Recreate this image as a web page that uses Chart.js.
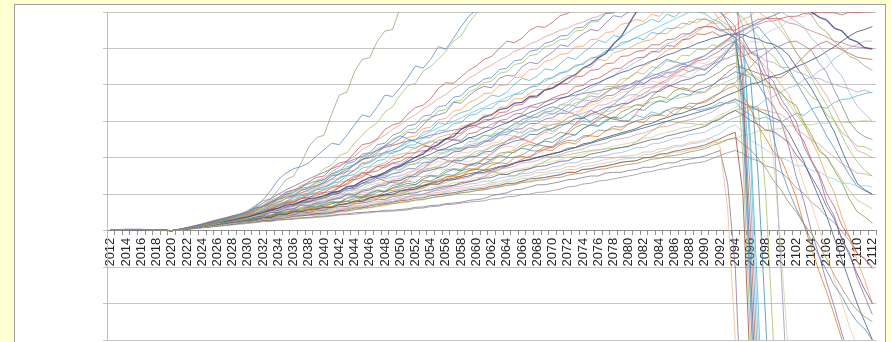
<!DOCTYPE html>
<html lang="en">
<head>
<meta charset="UTF-8" />
<title>Simulated runs 2012-2112</title>
<script src="https://cdn.jsdelivr.net/npm/chart.js"></script>
<style>
  html, body { margin: 0; padding: 0; }
  body { width: 891px; height: 342px; overflow: hidden; background: #ffffd2; position: relative; }
  .panel { position: absolute; left: 14px; top: 4px; width: 870px; height: 400px; background: #fff; border: 1px solid #9c9c9c; }
  #runs { position: absolute; left: 0; top: 0; }
</style>
</head>
<body>
<div class="panel"></div>
<canvas id="runs" width="891" height="342"></canvas>
<script>
const years = ['2012','2013','2014','2015','2016','2017','2018','2019','2020','2021','2022','2023','2024','2025','2026','2027','2028','2029','2030','2031','2032','2033','2034','2035','2036','2037','2038','2039','2040','2041','2042','2043','2044','2045','2046','2047','2048','2049','2050','2051','2052','2053','2054','2055','2056','2057','2058','2059','2060','2061','2062','2063','2064','2065','2066','2067','2068','2069','2070','2071','2072','2073','2074','2075','2076','2077','2078','2079','2080','2081','2082','2083','2084','2085','2086','2087','2088','2089','2090','2091','2092','2093','2094','2095','2096','2097','2098','2099','2100','2101','2102','2103','2104','2105','2106','2107','2108','2109','2110','2111','2112'];

// y gridlines every 100
const yMin = -300, yMax = 600, yStep = 100;

const run01 = [2,2,3,3,3,2,2,1,0,
  3,6,10,15,19,25,32,38,45,55, 70,82,88,112,140,150,186,230,255,262,
  320,372,380,436,470,475,520,548,552,612, 640,660,690,715,730,750,770,790,805,820,
  840,850,865,880,890,900,915,930,940,950, 960,970,980,990,1000,1000,1000,1000,1000,1000,
  1000,1000,1000,1000,1000,1000,1000,1000,1000,1000, 1000,990,970,950,900,850,800,760,720,690,
  655,640,608,592,560,545,518,502,478,470, 452,440];
const run02 = [2,2,3,3,3,2,2,1,0,
  3,6,9,13,18,24,30,37,45,54, 66,85,110,140,158,170,176,186,205,222,
  240,236,262,290,318,312,340,372,368,392, 420,452,446,470,505,498,528,560,588,605,
  630,655,680,700,720,740,755,770,790,805, 820,830,840,850,860,870,880,890,900,910,
  920,925,930,935,940,945,950,955,960,960, 960,940,900,830,720,600,470,360,260,170,
  110,60,20,-30,-70,-110,-150,-180,-220,-250, -270,-300];
const run03 = [2,2,3,3,3,2,2,1,0,
  2,5,9,13,17,22,28,34,41,48, 58,66,70,86,96,104,124,132,150,170,
  180,206,214,240,262,282,296,326,340,372, 398,404,438,450,470,492,520,534,570,596,
  612,622,645,660,682,700,710,722,735,750, 760,770,780,790,800,800,810,820,830,840,
  840,850,860,870,870,880,880,890,890,900, 900,880,850,810,770,720,680,640,600,565,
  530,490,455,420,380,345,300,260,220,190, 165,150];
const run04 = [2,2,3,3,3,2,2,1,0,
  3,7,11,16,21,27,31,36,41,45, 55,68,78,90,106,112,118,134,146,150,
  172,186,190,214,236,240,252,278,290,296, 320,338,344,362,390,406,404,422,440,452,
  470,478,500,520,516,528,550,560,558,572, 590,596,614,640,636,650,672,668,680,700,
  694,710,720,716,728,740,726,712,706,700, 712,700,680,690,400,0,-500,-900,-1000];
const run05 = [2,2,3,3,3,2,2,1,0,
  4,8,13,18,24,30,35,41,45,50, 62,66,74,86,92,96,110,118,124,132,
  150,154,162,182,196,200,214,232,238,252, 270,268,290,312,318,324,352,350,370,386,
  396,392,418,426,424,450,462,458,476,490, 510,506,524,540,552,548,570,590,586,600,
  618,612,630,646,640,660,652,668,646,640, 622,606,570,540,528,490,478,430,410,362,
  330,300,232,190,150,78,40,-26,-60,-130, -180,-230];
const run06 = [2,2,3,3,3,2,2,1,0,
  3,7,11,15,20,23,28,31,36,40, 47,56,68,72,80,92,100,102,116,120,
  128,146,152,166,184,186,200,216,220,232, 246,248,270,276,296,292,314,324,330,344,
  356,372,368,380,402,418,412,424,444,440, 458,476,470,488,504,522,516,536,530,546,
  560,568,580,572,594,586,604,616,600,596, 580,572,550,530,450,100,-400,-900,-1000];
const run07 = [2,2,3,3,3,2,2,1,0,
  3,7,11,16,20,25,30,33,38,42, 50,54,66,70,80,84,90,100,104,112,
  118,132,138,150,158,174,180,186,204,210, 214,230,236,242,256,262,266,286,292,298,
  318,316,338,340,362,362,376,388,386,404, 410,426,424,446,448,470,466,488,494,500,
  512,520,524,542,540,558,556,574,570,584, 568,570,554,562,580,588,612,622,642,648,
  664,668,682,688,702,702,714,712,726,722, 734,736];
const run08 = [2,2,3,3,3,2,2,1,0,
  3,6,10,14,18,22,26,30,34,38, 44,50,56,62,70,72,80,88,90,96,
  104,108,120,124,136,146,150,160,172,178, 190,202,210,228,236,252,258,278,290,298,
  312,318,332,336,350,352,368,370,386,392, 404,418,428,446,456,474,486,512,532,566,
  600,610,628,636,654,656,674,676,694,690, 704,696,708,700,690,680,670,660,650,640,
  630,620,610,600,586,578,556,548,526,518, 502,498];
const run09 = [2,2,3,3,3,2,2,1,0,
  3,6,10,14,19,23,27,31,36,40, 46,55,60,68,76,78,90,92,96,104,
  108,120,126,140,146,160,164,176,186,190, 202,200,216,224,228,240,250,248,266,270,
  284,282,302,306,320,322,340,338,352,364, 372,378,396,398,414,418,430,444,446,462,
  474,476,492,490,508,506,524,526,540,538, 546,534,540,530,508,474,456,414,390,344,
  320,274,246,194,156,102,66,14,-18,-62, -76,-104];
const run10 = [2,2,3,3,3,2,2,1,0,
  2,5,9,12,17,20,24,29,31,35, 43,46,58,60,70,72,82,84,92,94,
  106,108,122,122,138,140,154,152,166,168, 182,182,198,196,214,212,228,226,244,246,
  262,262,280,278,296,292,312,310,328,326, 346,344,362,360,378,374,396,396,416,418,
  434,430,450,446,466,462,482,480,498,496, 510,504,520,520,200,-300,-800,-1000];
const run11 = [2,2,3,3,3,2,2,1,0,
  3,6,10,13,18,23,26,30,35,38, 43,50,58,60,62,70,80,84,85,90,
  100,108,110,112,122,138,148,150,156,165, 178,186,186,192,206,218,220,224,236,240,
  246,262,270,270,278,292,300,302,314,320, 322,334,350,356,358,366,380,392,394,400,
  404,418,430,428,436,452,460,462,474,480, 494,510,522,530,548,562,570,584,590,600,
  588,574,560,528,508,482,448,424,378,342, 322,300];
const run12 = [2,2,3,3,3,2,2,1,0,
  3,6,9,13,17,21,25,29,33,36, 40,48,52,58,62,66,76,74,82,88,
  90,100,102,110,114,126,130,132,146,152, 154,166,170,180,190,188,206,214,214,228,
  232,240,244,262,260,274,282,294,290,306, 302,322,326,330,344,350,362,364,380,382,
  392,396,410,406,432,430,444,446,462,458, 474,478,500,510,488,472,436,404,346,304,
  248,194,128,72,6,-56,-134,-196,-264,-318, -384,-436];
const run13 = [2,2,3,3,3,2,2,1,0,
  3,6,9,12,16,20,24,28,31,34, 40,42,52,52,60,62,72,70,78,80,
  88,92,102,100,110,116,126,128,140,144, 152,154,168,172,174,188,194,202,206,218,
  220,232,238,246,254,258,274,274,288,292, 294,310,316,322,330,344,346,356,362,372,
  374,390,394,402,408,424,426,438,442,454, 460,478,488,500,506,494,482,466,462,448,
  448,436,430,418,418,408,402,394,390,380, 386,378];
const run14 = [2,2,3,3,3,2,2,1,0,
  3,6,9,12,16,20,23,27,30,33, 38,40,50,50,58,60,70,68,76,76,
  86,88,98,98,108,112,122,124,136,138, 148,148,162,166,172,176,192,192,202,204,
  216,218,232,238,246,250,264,264,276,280, 290,294,308,308,320,328,338,340,348,350,
  360,366,380,382,394,402,412,416,426,428, 446,464,492,518,380,-100,-600,-1000];
const run15 = [2,2,3,3,3,2,2,1,0,
  3,6,9,12,16,20,23,26,29,32, 38,38,46,52,52,62,62,70,74,72,
  82,90,88,98,104,106,120,118,126,138, 134,150,148,160,170,168,180,192,188,202,
  212,208,226,232,230,248,244,262,270,266, 284,296,290,308,322,318,336,348,342,360,
  372,368,390,396,392,410,424,420,438,446, 462,476,470,488,502,520,516,540,552,560,
  578,590,586,612,624,620,642,652,648,670, 680,690];
const run16 = [2,2,3,3,3,2,2,1,0,
  3,6,9,12,15,19,22,26,28,31, 36,38,42,50,50,58,60,64,72,72,
  80,78,90,96,94,104,112,108,124,128, 136,132,148,152,150,166,170,168,182,186,
  198,194,212,216,214,230,236,232,250,256, 270,266,284,292,288,308,312,306,326,334,
  346,342,362,368,364,384,392,388,404,412, 424,436,452,460,448,428,414,396,392,378,
  356,344,298,264,218,204,166,132,86,52, 38,20];
const run17 = [2,2,3,3,3,2,2,1,0,
  3,5,8,12,15,18,22,25,28,30, 34,40,40,48,54,52,62,66,64,72,
  78,76,88,94,90,102,110,106,118,124, 130,126,142,150,146,160,168,164,178,186,
  182,196,206,202,218,226,222,238,246,242, 256,266,262,280,290,286,300,312,308,322,
  334,330,346,356,352,366,376,372,386,392, 400,414,422,436,430,420,150,-250,-700,-1000];
const run18 = [2,2,3,3,3,2,2,1,0,
  3,5,8,11,15,18,22,25,28,30, 34,36,44,46,50,56,56,64,68,66,
  74,80,80,90,94,96,106,108,116,120, 124,126,138,136,146,154,152,164,170,168,
  180,186,186,200,202,208,220,218,230,228, 240,248,246,260,262,276,274,286,284,292,
  302,306,318,316,330,338,336,350,348,356, 368,378,400,406,432,448,472,486,502,508,
  518,520,508,494,460,434,386,344,298,272, 258,250];
const run19 = [2,2,3,3,3,2,2,1,0,
  3,5,8,11,14,17,21,24,27,29, 32,38,38,46,46,54,54,60,62,68,
  66,76,80,78,90,96,94,108,110,114, 120,118,132,136,134,148,150,148,164,168,
  166,180,186,184,200,204,200,218,222,220, 236,242,238,256,260,258,274,280,276,294,
  300,296,314,318,314,332,338,334,348,352, 364,378,390,398,372,334,286,254,216,198,
  146,92,18,-48,-112,-168,-232,-298,-362,-418, -440,-460];
const run20 = [2,2,3,3,3,2,2,1,0,
  3,5,8,11,14,17,20,23,26,28, 30,36,36,44,44,52,52,58,60,64,
  64,72,74,82,80,90,94,98,100,108, 112,114,122,128,128,138,140,146,150,158,
  160,166,174,176,184,192,194,202,206,212, 216,226,228,238,242,250,256,262,268,274,
  280,290,294,304,310,318,322,330,336,342, 350,362,372,380,390,402,406,416,424,430,
  440,450,458,468,478,492,504,520,534,546, 552,560];
const run21 = [2,2,3,3,3,2,2,1,0,
  3,5,8,11,14,17,20,22,25,27, 30,35,36,42,42,50,52,54,60,62,
  64,70,74,74,84,86,88,98,100,104, 110,112,116,126,126,132,140,142,146,156,
  156,162,170,172,176,186,188,192,202,204, 208,216,220,224,234,236,240,250,252,256,
  264,268,276,284,286,292,300,304,310,318, 326,340,352,362,350,342,334,330,324,320,
  302,280,264,248,238,218,202,184,172,158, 156,150];
const run22 = [2,2,3,3,3,2,2,1,0,
  2,5,8,10,13,16,19,22,25,27, 29,34,35,41,42,48,49,54,56,60,
  60,68,70,72,80,82,84,92,96,98, 104,108,110,118,122,124,132,134,138,146,
  146,152,158,160,168,170,174,182,186,190, 194,202,204,210,218,220,226,232,236,240,
  244,254,256,264,270,274,282,284,290,296, 304,318,326,340,338,334,334,330,200,-50,
  -350,-700,-1000];
const run23 = [2,2,3,3,3,2,2,1,0,
  2,5,8,10,13,16,19,22,24,26, 28,33,34,40,42,44,50,50,56,56,
  62,66,66,74,76,80,86,86,94,96, 102,104,110,112,118,122,124,132,134,138,
  144,146,154,154,162,166,170,176,178,184, 190,192,200,202,210,214,218,224,228,232,
  238,244,250,252,260,264,270,274,280,286, 298,306,320,330,318,302,292,276,272,258,
  242,208,184,148,112,66,32,-22,-68,-118, -162,-200];
const run24 = [2,2,3,3,3,2,2,1,0,
  2,5,7,10,13,15,18,21,23,25, 27,32,33,38,38,44,46,48,54,54,
  58,62,62,70,70,76,80,82,88,92, 94,100,100,108,110,114,120,122,128,130,
  136,136,144,148,150,156,158,166,168,175, 178,186,186,194,196,204,206,212,214,220,
  228,228,238,240,246,254,256,264,266,270, 282,290,302,310,318,334,344,360,368,380,
  392,398,414,422,438,448,472,486,502,510, 520,520];
const run25 = [2,2,3,3,3,2,2,1,0,
  2,5,7,10,12,15,18,20,23,25, 27,31,32,37,38,42,46,47,51,52,
  54,59,61,66,67,71,76,79,85,88, 90,96,97,103,105,109,115,117,120,124,
  126,132,134,140,144,150,152,160,160,165, 168,176,176,184,186,190,196,198,204,205,
  208,216,216,224,226,234,234,242,244,250, 256,230,60,-300,-800,-1000];
const run26 = [2,2,3,3,3,2,2,1,0,
  2,4,7,9,12,14,17,20,22,24, 26,30,31,36,37,42,43,46,50,50,
  52,58,58,64,65,70,73,78,80,85, 86,92,92,99,101,106,110,112,116,118,
  120,128,128,136,136,144,144,150,154,158, 160,168,168,176,178,182,186,190,196,198,
  200,208,210,216,222,230,230,238,240,245, 258,266,282,290,272,248,236,222,208,200,
  192,178,178,166,162,148,142,130,130,122, 124,120];
const run27 = [2,2,3,3,3,2,2,1,0,
  2,4,7,9,12,14,17,19,22,24, 26,29,30,35,36,40,42,43,47,48,
  50,55,57,62,63,68,72,74,78,82, 84,89,90,96,98,102,104,108,112,114,
  116,122,124,130,130,136,142,144,146,150, 154,160,160,168,170,174,178,182,188,190,
  192,200,202,210,212,218,222,226,230,235, 244,252,262,270,100,-400,-900,-1000];
const run28 = [2,2,3,3,3,2,2,1,0,
  2,4,6,9,11,14,16,18,21,23, 25,28,29,34,35,40,40,44,44,46,
  48,53,54,58,62,64,68,72,74,78, 80,84,86,90,94,96,100,104,106,110,
  112,116,120,124,126,132,134,138,140,145, 146,152,156,158,164,168,170,175,178,182,
  184,190,196,198,204,206,210,216,220,225, 234,240,250,255,238,222,198,172,138,112,
  78,52,18,-8,-42,-78,-122,-158,-192,-218, -236,-250];
const run29 = [2,2,3,3,3,2,2,1,0,
  2,4,6,8,10,12,15,17,20,22, 24,27,27,30,31,34,35,36,39,40,
  42,45,46,49,50,52,53,56,56,58, 60,64,65,69,70,74,76,78,83,85,
  88,96,100,104,112,114,120,126,126,130, 134,140,141,146,150,150,158,160,160,165,
  168,174,174,180,186,186,194,196,200,205, 212,220,130,-100,-600,-1000];
const run30 = [2,2,3,3,3,2,2,1,0,
  2,4,6,9,11,13,16,18,20,22, 24,27,28,32,35,36,40,41,42,44,
  46,51,52,57,59,62,66,68,74,76, 78,84,84,90,92,96,98,104,106,110,
  112,120,120,128,128,136,136,142,146,150, 152,160,160,168,168,176,176,182,186,190,
  192,200,200,208,208,216,216,222,226,230, 240,244,250,252,262,264,274,276,278,280,
  288,286,292,290,296,294,300,298,296,300, 302,300];
const run31 = [2,2,3,3,3,2,2,1,0,
  4,8,12,17,22,27,32,38,43,48, 60,66,80,86,100,104,116,120,134,140,
  156,162,184,190,210,214,236,240,262,270, 288,292,314,318,340,344,366,370,392,400,
  416,420,442,446,466,470,492,496,514,520, 534,536,556,558,576,578,596,598,608,610,
  618,616,630,626,638,634,644,638,648,640, 622,598,582,560,300,-200,-700,-1000];
const run32 = [2,2,3,3,3,2,2,1,0,
  3,7,11,15,20,24,29,34,39,44, 54,58,70,74,88,92,104,108,120,125,
  140,144,162,166,186,190,210,214,234,240, 256,260,280,284,304,308,328,332,352,360,
  376,378,398,400,420,422,442,444,464,470, 484,486,504,506,524,526,544,546,566,570,
  580,574,594,588,606,600,616,608,622,620, 604,578,564,540,514,488,474,448,430,400,
  374,328,294,248,204,148,104,38,-16,-82, -136,-200];
const run33 = [2,2,3,3,3,2,2,1,0,
  4,8,12,16,21,26,31,36,41,46, 57,62,76,80,95,98,112,114,130,135,
  152,156,176,180,202,206,226,230,252,260, 276,280,302,306,328,332,354,358,380,390,
  406,410,432,436,456,460,480,484,504,510, 524,526,548,550,572,574,596,598,616,620,
  632,630,646,644,662,656,674,668,682,680, 664,638,624,600,584,558,534,498,478,450,
  434,408,394,368,354,318,304,268,254,232, 230,220];
const run34 = [2,2,3,3,3,2,2,1,0,
  3,7,11,15,19,23,27,30,34,37, 46,48,60,62,74,76,88,90,102,105,
  118,122,138,140,158,160,176,180,194,200, 212,214,230,232,248,250,266,268,286,290,
  304,306,324,326,344,346,364,366,386,390, 402,404,422,424,440,442,458,460,478,480,
  492,494,510,510,524,526,540,540,556,560, 560,550,552,550,562,568,580,582,582,582,
  588,588,596,594,600,598,598,592,600,598, 600,600];
const run35 = [2,2,3,3,3,2,2,1,0,
  3,7,11,15,19,23,27,31,35,39, 48,52,64,66,80,82,96,98,112,115,
  130,134,150,154,172,176,192,196,216,220, 234,236,254,256,274,276,294,296,316,320,
  334,336,354,356,374,376,394,396,416,420, 434,436,454,456,474,476,494,496,516,520,
  530,524,544,540,556,554,570,566,580,580, 574,554,542,520,500,250,-200,-700,-1000];
const run36 = [2,2,3,3,3,2,2,1,0,
  3,6,10,14,17,21,25,28,32,35, 42,45,54,56,66,68,78,80,90,92,
  100,102,116,116,130,132,144,146,156,160, 170,170,186,188,200,202,216,218,232,235,
  246,246,262,264,278,280,294,294,306,310, 322,322,338,340,354,356,370,372,386,390,
  402,402,418,420,434,436,450,452,466,470, 482,494,510,520,482,438,402,368,342,300,
  232,148,82,-2,-68,-142,-208,-282,-348,-422, -458,-500];
const run37 = [2,2,3,3,3,2,2,1,0,
  2,4,6,8,10,12,14,16,18,20, 22,25,25,29,30,31,34,35,36,38,
  40,43,44,45,48,49,52,52,54,55, 57,61,62,66,67,72,72,76,78,80,
  82,87,88,93,94,99,100,105,106,110, 114,120,122,128,130,136,138,142,146,150,
  154,160,162,168,170,176,178,184,186,190, 198,206,214,220,212,198,192,178,172,160,
  142,118,102,78,62,38,22,-2,-28,-62, -78,-100];
const run38 = [2,2,3,3,3,2,2,1,0,
  3,6,9,13,16,20,23,26,28,30, 37,42,52,56,64,68,76,80,86,88,
  98,104,114,120,130,138,148,156,168,175, 186,192,202,210,220,226,236,242,254,260,
  270,278,288,296,306,314,324,332,342,350, 362,368,380,388,398,406,416,424,434,440,
  450,456,466,472,482,488,498,504,514,520, 528,532,538,540,538,530,526,516,512,500,
  482,450,422,390,352,310,272,220,172,130, 112,100];
const run39 = [2,2,3,3,3,2,2,1,0,
  3,7,11,16,21,26,31,36,41,45, 57,65,78,87,100,108,120,128,138,145,
  162,174,192,204,222,234,250,262,278,290, 306,318,334,346,362,374,390,402,418,430,
  444,454,468,478,492,500,512,520,532,540, 550,556,566,572,582,588,598,604,614,620,
  630,634,642,646,652,654,658,658,662,660, 660,656,656,650,642,620,602,585,572,550,
  522,490,462,430,402,370,332,290,252,220, 212,200];
const run40 = [2,2,3,3,3,2,2,1,0,
  3,6,10,13,17,20,24,27,30,33, 40,45,52,57,64,69,75,78,81,82,
  92,98,108,114,124,130,138,142,148,150, 160,166,178,186,198,206,216,220,228,230,
  242,250,264,272,286,294,306,314,324,330, 344,354,368,378,392,402,416,426,440,450,
  464,474,488,498,512,520,532,540,552,560, 558,548,542,530,350,-150,-650,-1000];
const run41 = [2,2,3,3,3,2,2,1,0,
  4,9,14,19,25,30,35,40,46,50, 62,70,84,92,104,110,122,130,136,140,
  156,166,170,182,196,200,206,214,212,222, 230,226,238,246,240,252,248,244,256,250,
  262,258,266,280,272,268,282,276,284,272, 284,296,290,302,296,288,304,312,300,302,
  316,310,326,320,332,318,336,342,330,334, 340,352,348,354,330,318,306,312,300,298,
  310,322,316,334,340,336,352,360,362,370, 376,380];
const run42 = [2,2,3,3,3,2,2,1,0,
  2,5,8,11,14,17,20,24,27,30, 34,36,42,44,48,52,54,56,60,62,
  66,70,72,78,82,84,90,94,96,100, 108,116,118,130,138,142,150,156,166,172,
  184,190,204,214,222,236,244,256,270,282, 294,310,318,336,350,362,378,394,402,420,
  434,452,462,478,494,502,520,534,546,560, 572,586,598,604,612,620,632,640,650,660,
  650,662,670,680,690,700,700,710,710,720, 720,730];
const run43 = [2,2,3,3,3,2,2,1,0,
  3,6,10,14,19,23,28,32,36,40, 46,54,58,68,78,80,90,98,104,112,
  122,124,138,150,150,164,176,172,184,182, 196,214,220,218,238,252,250,264,280,286,
  280,292,300,294,306,318,312,310,324,320, 330,346,342,358,370,366,378,392,388,400,
  412,404,416,426,420,432,444,436,448,442, 456,466,474,482,478,488,496,500,300,-100,
  -500,-1000];
const run44 = [2,2,3,3,3,2,2,1,0,
  2,4,7,9,12,15,18,20,23,25, 28,30,33,36,38,41,44,46,48,50,
  54,56,60,64,66,70,74,78,80,85, 92,96,100,106,114,118,124,128,134,140,
  148,160,166,178,186,196,204,212,224,230, 244,256,264,280,292,302,316,326,340,350,
  366,376,390,404,414,428,440,456,470,480, 496,512,526,540,548,560,566,574,576,580,
  570,566,556,548,540,532,520,516,508,504, 502,500];
const run45 = [2,2,3,3,3,2,2,1,0,
  3,5,8,12,15,18,22,25,28,31, 36,40,44,50,56,60,64,70,76,80,
  84,92,98,104,112,116,124,130,134,140, 148,154,164,170,178,186,192,198,204,210,
  220,228,236,246,252,262,270,276,284,290, 296,300,306,312,316,320,326,330,336,340,
  344,348,352,356,360,362,366,370,376,380, 392,400,410,420,426,430,420,410,398,380,
  350,318,290,256,226,200,172,140,110,84, 72,60];
const run46 = [2,2,3,3,3,2,2,1,0,
  3,7,11,15,19,24,28,32,36,40, 48,56,64,72,80,88,96,104,112,120,
  132,142,154,166,178,190,200,210,222,230, 240,250,262,272,282,292,300,310,320,330,
  338,348,356,366,374,384,392,402,410,420, 430,440,450,460,470,480,490,500,510,520,
  530,540,550,560,570,580,590,600,606,612, 616,618,620,620,560,200,-300,-800,-1000];
const run47 = [2,2,3,3,3,2,2,1,0,
  2,5,8,11,14,17,20,23,26,28, 31,34,38,42,46,48,52,55,58,60,
  64,70,74,80,84,90,96,100,106,110, 114,120,124,130,134,140,144,150,156,160,
  166,170,176,180,186,190,196,200,206,210, 216,222,228,234,240,246,252,258,264,270,
  276,282,288,294,300,306,312,318,324,330, 336,344,352,360,350,340,330,320,310,300,
  270,230,190,140,90,40,-20,-80,-140,-200, -250,-300];
const run48 = [2,2,3,3,3,2,2,1,0,
  3,6,9,13,17,21,25,29,33,36, 40,46,52,56,62,68,72,78,84,90,
  104,118,130,146,160,152,144,136,132,130, 142,158,170,186,200,194,188,184,180,180,
  196,212,228,246,260,252,244,236,232,230, 250,272,294,312,330,322,314,306,302,300,
  322,346,368,386,400,394,388,384,380,380, 398,416,434,450,446,440,432,426,420,420,
  436,456,478,498,512,520,508,496,486,476, 472,470];
const run49 = [2,2,3,3,3,2,2,1,0,
  3,7,11,15,19,24,29,34,38,42, 52,60,70,78,88,96,104,112,122,130,
  142,156,168,180,194,206,220,234,248,260, 252,244,236,228,220,222,224,226,228,230,
  242,254,268,280,292,304,312,322,332,340, 334,326,318,310,300,312,328,346,364,380,
  398,418,436,454,470,464,458,452,446,440, 456,474,496,520,534,548,560,534,508,480,
  446,408,372,336,300,260,226,188,152,122, 110,100];
const run50 = [2,2,3,3,3,2,2,1,0,
  2,5,8,11,14,17,20,23,26,29, 32,36,40,44,48,52,56,60,66,70,
  74,78,82,86,90,92,94,96,98,100, 108,116,124,132,140,146,152,158,164,170,
  166,162,158,154,150,160,170,180,190,200, 204,208,212,216,220,222,224,226,228,230,
  244,258,272,286,300,298,296,294,292,290, 300,310,320,330,336,340,340,100,-300,-800,
  -1000];
const run51 = [2,2,3,3,3,2,2,1,0,
  4,8,12,17,22,28,34,40,46,52, 64,76,88,100,112,122,132,142,152,160,
  170,178,188,196,204,212,220,228,234,240, 246,250,256,262,266,272,276,280,286,290,
  298,306,312,320,328,334,342,348,354,360, 364,368,372,376,380,384,388,392,396,400,
  408,416,424,432,440,448,456,464,472,480, 494,508,524,540,552,562,572,582,590,600,
  604,610,614,620,624,630,634,640,644,648, 650,652];

const runs = [run01,run02,run03,run04,run05,run06,run07,run08,run09,run10,
  run11,run12,run13,run14,run15,run16,run17,run18,run19,run20,
  run21,run22,run23,run24,run25,run26,run27,run28,run29,run30,
  run31,run32,run33,run34,run35,run36,run37,run38,run39,run40,
  run41,run42,run43,run44,run45,run46,run47,run48,run49,run50,run51];

const colours = ['#9a9a6a','#4f81bd','#9bbb59','#c0504d','#8064a2','#4bacc6','#f79646','#2e2e7a','#c0504d','#9bbb59',
  '#95b3d7','#fac090','#b2a2c7','#376092','#e6b9b8','#77933c','#31859c','#7f7f7f','#e46c0a','#254061',
  '#d99694','#c3d69b','#5f497a','#8eb4e3','#f4b183','#93cddd','#953735','#948a54','#7f6b94','#b3cc82',
  '#4f81bd','#f79646','#9bbb59','#c0504d','#4bacc6','#8064a2','#8c8c8c','#1f497d','#da9694','#95b3d7',
  '#4bacc6','#f79646','#9983b5','#cd7371','#afc97a','#6fbdd1','#2c4d75','#c0504d','#4f81bd','#9bbb59','#8064a2'];

new Chart(document.getElementById('runs'), {
  type: 'line',
  data: {
    labels: years,
    datasets: runs.map((r, i) => ({
      data: r,
      borderColor: colours[i] + 'b8',
      borderWidth: i === 7 ? 1.4 : 1,
      pointRadius: 0,
      tension: 0,
      fill: false
    }))
  },
  options: {
    responsive: false,
    animation: false,
    events: [],
    layout: { padding: { left: 103, top: 12, right: 9, bottom: 2 } },
    plugins: { legend: { display: false }, tooltip: { enabled: false } },
    scales: {
      x: {
        position: { y: 0 },
        offset: true,
        grid: { drawOnChartArea: false, drawTicks: true, tickLength: 4, color: '#909090', offset: true },
        border: { color: '#909090' },
        ticks: {
          autoSkip: false, minRotation: 90, maxRotation: 90, padding: 3,
          color: '#262626', font: { family: 'Liberation Sans', size: 13 },
          callback: (v, i) => (i % 2 === 0 ? years[i] : '')
        }
      },
      y: {
        min: yMin, max: yMax,
        ticks: { stepSize: yStep, display: false },
        grid: { color: '#c4c4c4', tickLength: 4 },
        border: { color: '#bdbdbd' }
      }
    }
  }
});
</script>
</body>
</html>
